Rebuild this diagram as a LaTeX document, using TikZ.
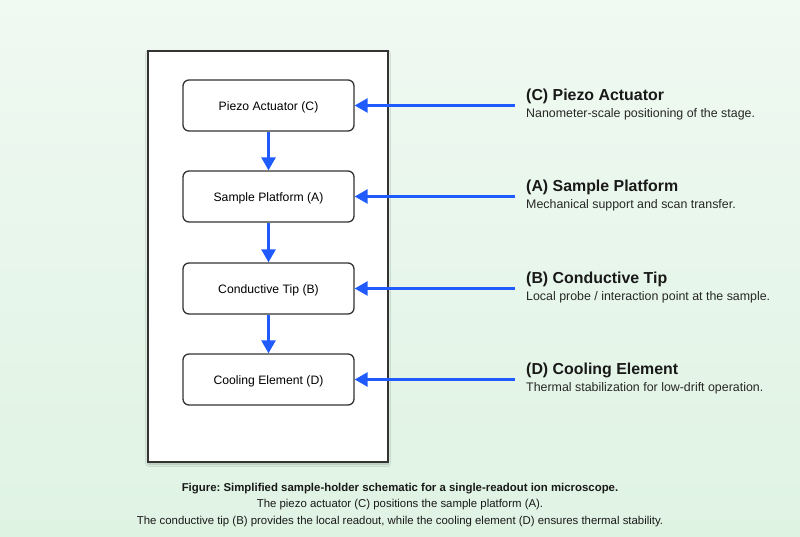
\documentclass[tikz,border=0pt]{standalone}
\usepackage{fontspec}
\setmainfont{Liberation Sans}
\usetikzlibrary{arrows.meta,shadows.blur}
\definecolor{bgtop}{HTML}{F0F9F2}
\definecolor{bgbot}{HTML}{DFF3E3}
\definecolor{arrowblue}{HTML}{1F5BFF}
\definecolor{edgegrey}{HTML}{333333}
\tikzset{
  comp/.style={draw=edgegrey, line width=1.3pt, rounded corners=6pt, fill=white,
    minimum width=171pt, minimum height=51pt, inner sep=0pt,
    text height=10.5pt, text depth=0pt,
    font=\fontsize{12.2}{14}\selectfont},
  flow/.style={draw=arrowblue, line width=2.6pt, -{Triangle[length=13pt,width=14pt]}},
  ttl/.style={anchor=base west, inner sep=0pt, font=\fontsize{15.9}{18}\selectfont\bfseries, text=black!90},
  sub/.style={anchor=base west, inner sep=0pt, font=\fontsize{12.4}{14}\selectfont, text=black!85},
  captext/.style={anchor=base, inner sep=0pt, font=\fontsize{11.4}{13}\selectfont, text=black!90}
}
\begin{document}
\frenchspacing
\begin{tikzpicture}[x=1pt,y=-1pt]
\shade[top color=bgtop, bottom color=bgbot] (0,0) rectangle (800,537);
\useasboundingbox (0,0) rectangle (800,537);
\node[draw=edgegrey, line width=1.3pt, fill=white, minimum width=240pt, minimum height=411pt, inner sep=0pt,
  blur shadow={shadow xshift=0pt, shadow yshift=-2pt, shadow blur steps=8, shadow opacity=25}] (frame) at (268,256.5) {};
\node[comp] (c) at (268.5,105.5) {Piezo Actuator (C)};
\node[comp] (a) at (268.5,196.5) {Sample Platform (A)};
\node[comp] (b) at (268.5,288.5) {Conductive Tip (B)};
\node[comp] (d) at (268.5,379.5) {Cooling Element (D)};
\draw[flow] (c) -- (a);
\draw[flow] (a) -- (b);
\draw[flow] (b) -- (d);
\coordinate (sc) at (515,105.5);
\coordinate (sa) at (515,196.5);
\coordinate (sb) at (515,288.5);
\coordinate (sd) at (515,379.5);
\draw[flow] (sc) -- (c.east);
\draw[flow] (sa) -- (a.east);
\draw[flow] (sb) -- (b.east);
\draw[flow] (sd) -- (d.east);
\node[ttl] (tc) at (526,100.5) {(C) Piezo Actuator};
\node[sub] (uc) at (526,117.5) {Nanometer-scale positioning of the stage.};
\node[ttl] (ta) at (526,191.5) {(A) Sample Platform};
\node[sub] (ua) at (526,208.5) {Mechanical support and scan transfer.};
\node[ttl] (tb) at (526,283.5) {(B) Conductive Tip};
\node[sub] (ub) at (526,300.5) {Local probe / interaction point at the sample.};
\node[ttl] (td) at (526,374.5) {(D) Cooling Element};
\node[sub] (ud) at (526,391.5) {Thermal stabilization for low-drift operation.};
\node[captext, font=\fontsize{11.4}{13}\selectfont\bfseries] (cap1) at (400,491) {Figure: Simplified sample-holder schematic for a single-readout ion microscope.};
\node[captext] (cap2) at (400,507.5) {The piezo actuator (C) positions the sample platform (A).};
\node[captext] (cap3) at (400,524.5) {The conductive tip (B) provides the local readout, while the cooling element (D) ensures thermal stability.};
\end{tikzpicture}
\end{document}
